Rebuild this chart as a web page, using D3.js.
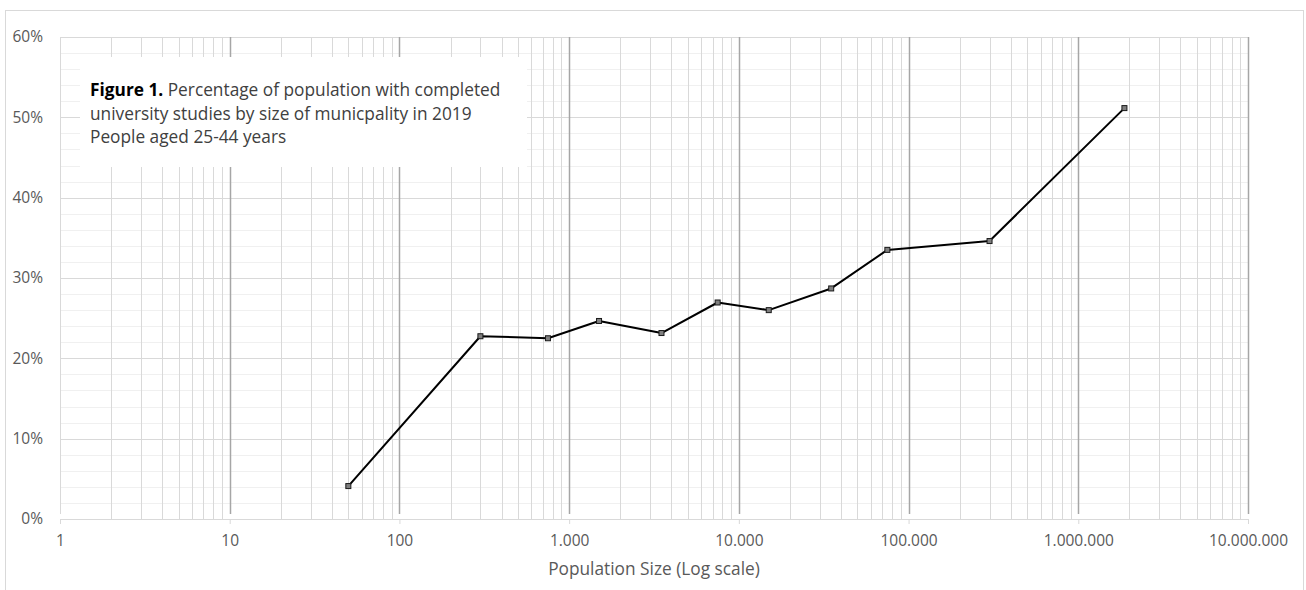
<!DOCTYPE html>
<html>
<head>
<meta charset="utf-8">
<script src="https://cdn.jsdelivr.net/npm/d3@7"></script>
<style>
  html, body { margin: 0; padding: 0; background: #fff; }
  svg { display: block; font-family: "Open Sans", "Noto Sans", sans-serif; }
</style>
</head>
<body>
<div id="chart"></div>
<script>
// Datos: tamaño de municipio (población) y % con estudios universitarios
const popSize  = [50, 300, 750, 1500, 3500, 7500, 15000, 35000, 75000, 300000, 1870000];
const pctUniv  = [4.1, 22.75, 22.5, 24.65, 23.15, 26.95, 26.0, 28.7, 33.5, 34.6, 51.15];
const xDecades = [1, 10, 100, 1000, 10000, 100000, 1000000, 10000000];
const yTicks   = [0, 10, 20, 30, 40, 50, 60];
const titleLines = [
  ["Figure 1.", " Percentage of population with completed"],
  ["", "university studies by size of municpality in 2019"],
  ["", "People aged 25-44 years"]
];
const xTitle = "Population Size (Log scale)";

const W = 1306, H = 590;
const margin = { top: 37, right: 58, bottom: 71, left: 60 };
const innerW = W - margin.left - margin.right;
const innerH = H - margin.top - margin.bottom;

const svg = d3.select("#chart").append("svg")
  .attr("width", W).attr("height", H);

// marco exterior
svg.append("rect")
  .attr("x", 5.5).attr("y", 10.5)
  .attr("width", 1298).attr("height", 590)
  .attr("fill", "none").attr("stroke", "#d9d9d9");

const g = svg.append("g")
  .attr("transform", `translate(${margin.left},${margin.top})`);

const x = d3.scaleLog().domain([1, 1e7]).range([0, innerW]);
const y = d3.scaleLinear().domain([0, 60]).range([innerH, 0]);

// rejilla horizontal menor (cada 2%)
const yMinor = d3.range(0, 61, 2).filter(v => v % 10 !== 0);
g.append("g").selectAll("line").data(yMinor).join("line")
  .attr("x1", 0).attr("x2", innerW)
  .attr("y1", d => Math.round(y(d)) + 0.5).attr("y2", d => Math.round(y(d)) + 0.5)
  .attr("stroke", "#f0f0f0");

// rejilla horizontal mayor
g.append("g").selectAll("line").data(yTicks).join("line")
  .attr("x1", 0).attr("x2", innerW)
  .attr("y1", d => Math.round(y(d)) + 0.5).attr("y2", d => Math.round(y(d)) + 0.5)
  .attr("stroke", "#d9d9d9");

// rejilla vertical menor (2..9 de cada década)
const xMinor = [];
xDecades.slice(0, -1).forEach(d => { for (let k = 2; k <= 9; k++) xMinor.push(d * k); });
g.append("g").selectAll("line").data(xMinor).join("line")
  .attr("x1", d => Math.round(x(d)) + 0.5).attr("x2", d => Math.round(x(d)) + 0.5)
  .attr("y1", 0).attr("y2", innerH)
  .attr("stroke", "#d9d9d9");

// rejilla vertical mayor (décadas)
g.append("g").selectAll("line").data(xDecades).join("line")
  .attr("x1", d => Math.round(x(d)) + 0.5).attr("x2", d => Math.round(x(d)) + 0.5)
  .attr("y1", 0).attr("y2", innerH - 5)
  .attr("stroke", d => d === 1 ? "#d9d9d9" : "#a6a6a6")
  .attr("stroke-width", d => d === 1 ? 1 : 1.5);

// eje x: línea base y marcas
g.append("line")
  .attr("x1", 0).attr("x2", innerW)
  .attr("y1", innerH + 0.5).attr("y2", innerH + 0.5)
  .attr("stroke", "#d9d9d9");

const xAxis = g.append("g")
  .attr("transform", `translate(0,${innerH})`)
  .call(d3.axisBottom(x).tickValues(xDecades).tickSize(5)
    .tickFormat(d => d3.format(",")(d).replace(/,/g, ".")));
xAxis.attr("font-family", null).attr("font-size", null);
xAxis.select(".domain").remove();
xAxis.selectAll(".tick line").attr("stroke", "#d9d9d9");
xAxis.selectAll(".tick text")
  .attr("y", 16).attr("fill", "#595959").style("font-size", "15.5px");

// eje y
const yAxis = g.append("g")
  .call(d3.axisLeft(y).tickValues(yTicks).tickSize(0).tickPadding(17).tickFormat(d => d + "%"));
yAxis.attr("font-family", null).attr("font-size", null);
yAxis.select(".domain").remove();
yAxis.selectAll(".tick text")
  .attr("fill", "#595959").style("font-size", "15.5px");

// título del eje x
svg.append("text")
  .attr("x", 654).attr("y", 575)
  .attr("text-anchor", "middle")
  .attr("fill", "#595959").style("font-size", "17.3px")
  .text(xTitle);

// caja del título
svg.append("rect")
  .attr("x", 80).attr("y", 57).attr("width", 447).attr("height", 110)
  .attr("fill", "#fff");

const title = svg.append("text")
  .attr("x", 90).style("font-size", "17.3px").attr("fill", "#404040");
titleLines.forEach((ln, i) => {
  const t = title.append("tspan").attr("x", 90).attr("y", 96 + i * 23.5);
  if (ln[0]) t.append("tspan").attr("font-weight", "bold").attr("fill", "#000").text(ln[0]);
  t.append("tspan").text(ln[1]);
});

// serie
const pts = popSize.map((p, i) => [p, pctUniv[i]]);
g.append("path")
  .datum(pts)
  .attr("fill", "none")
  .attr("stroke", "#000")
  .attr("stroke-width", 2)
  .attr("stroke-linejoin", "round")
  .attr("d", d3.line().x(d => x(d[0])).y(d => y(d[1])));

g.selectAll("rect.mk").data(pts).join("rect")
  .attr("class", "mk")
  .attr("x", d => x(d[0]) - 2.5).attr("y", d => y(d[1]) - 2.5)
  .attr("width", 5).attr("height", 5)
  .attr("fill", "#7f7f7f").attr("stroke", "#1a1a1a").attr("stroke-width", 1);
</script>
</body>
</html>
